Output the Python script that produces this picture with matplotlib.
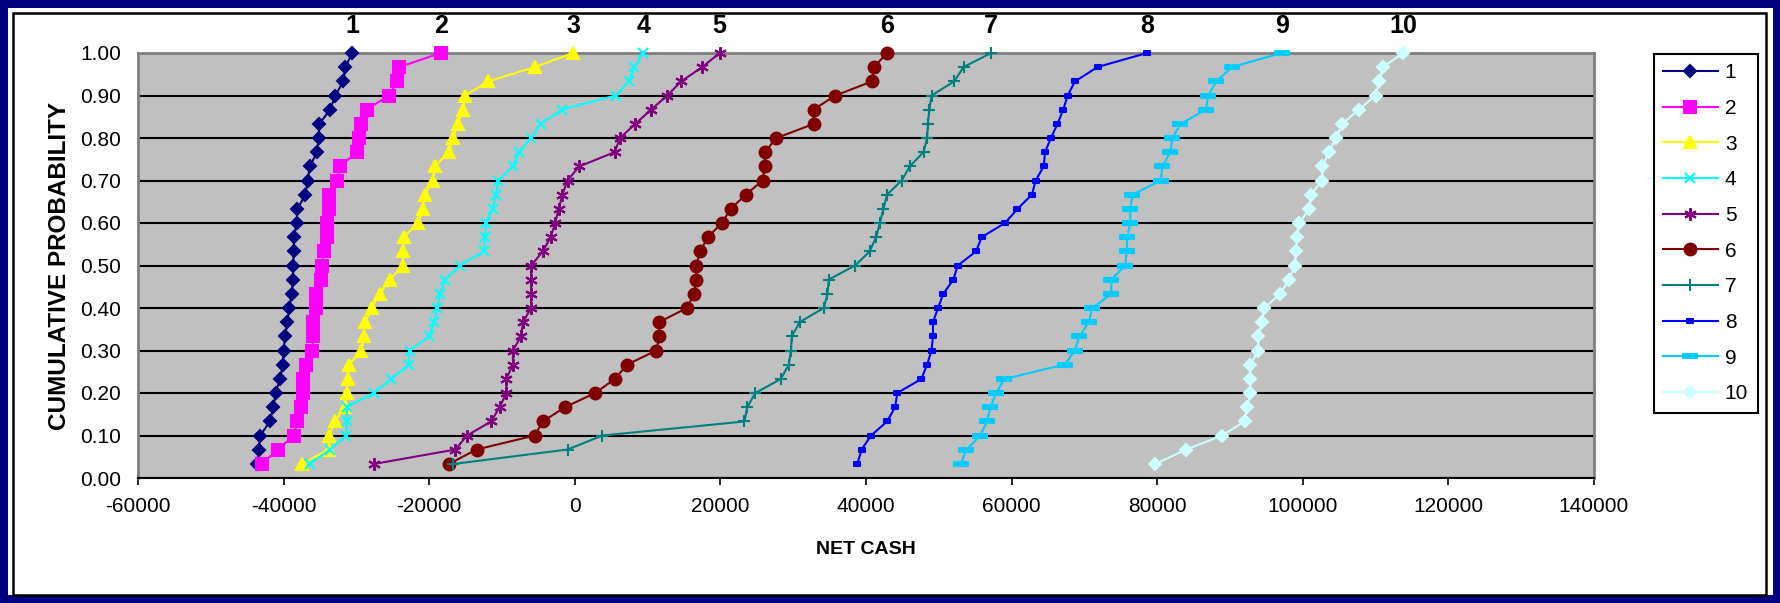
import matplotlib
matplotlib.use('Agg')
import matplotlib.pyplot as plt
from matplotlib.patches import Rectangle
from matplotlib.path import Path

plt.rcParams['font.family'] = ['Liberation Sans', 'DejaVu Sans']
narrow = ['Liberation Sans Narrow', 'Liberation Sans', 'DejaVu Sans']

# cumulative probability of each sorted outcome (30 runs)
cum_prob = [0.033, 0.067, 0.100, 0.133, 0.167, 0.200, 0.233, 0.267, 0.300, 0.333,
            0.367, 0.400, 0.433, 0.467, 0.500, 0.533, 0.567, 0.600, 0.633, 0.667,
            0.700, 0.733, 0.767, 0.800, 0.833, 0.867, 0.900, 0.933, 0.967, 1.000]

# net cash, sorted low to high, one list per alternative
cash_1 = [-43600, -43400, -43200, -41900, -41400, -41100, -40500, -40100, -40000, -39800,
          -39500, -39200, -38900, -38700, -38700, -38600, -38600, -38200, -38100, -37000,
          -36700, -36400, -35400, -35200, -35100, -33600, -32900, -31800, -31500, -30600]
cash_2 = [-43000, -40800, -38600, -38100, -37600, -37300, -37300, -36900, -36100, -35900,
          -35900, -35600, -35600, -34800, -34700, -34500, -34000, -34000, -33700, -33700,
          -32600, -32300, -29900, -29600, -29300, -28600, -25500, -24400, -24100, -18400]
cash_3 = [-37500, -33800, -33700, -33000, -31500, -31300, -31200, -31000, -29300, -29000,
          -28800, -27900, -26800, -25400, -23600, -23600, -23500, -21500, -20900, -20600,
          -19500, -19200, -17300, -16700, -16100, -15300, -15100, -11900, -5500, -200]
cash_4 = [-36400, -33600, -31400, -31300, -31300, -27600, -25200, -22800, -22700, -20000,
          -19300, -18900, -18500, -17800, -15800, -12500, -12300, -12200, -11300, -10800,
          -10500, -8500, -7700, -6000, -4700, -1700, 5600, 7400, 8200, 9400]
cash_5 = [-27600, -16400, -14800, -11500, -10300, -9400, -9400, -8500, -8500, -7400,
          -7100, -6000, -6000, -6000, -6000, -4400, -3300, -2700, -2200, -1700,
          -1000, 600, 5500, 6200, 8300, 10500, 12700, 14600, 17500, 19900]
cash_6 = [-17300, -13500, -5500, -4400, -1300, 2800, 5500, 7200, 11200, 11600,
          11600, 15400, 16400, 16700, 16700, 17200, 18300, 20200, 21400, 23500,
          25800, 26100, 26100, 27700, 32800, 32800, 35800, 40800, 41100, 42900]
cash_7 = [-16700, -1000, 3800, 23300, 23700, 24800, 28300, 29400, 29700, 29800,
          30900, 34200, 34700, 34900, 38500, 40500, 41400, 41900, 42400, 42900,
          44900, 46000, 47900, 48400, 48500, 48700, 49000, 52100, 53400, 57200]
cash_8 = [38800, 39400, 40700, 42900, 44000, 44300, 47600, 48400, 49000, 49200,
          49200, 49900, 50600, 52000, 52600, 55100, 55900, 59100, 60800, 62800,
          63300, 64400, 64600, 65400, 66300, 67100, 67700, 68700, 71800, 78600]
cash_9 = [53000, 53800, 55700, 56600, 57100, 57900, 59000, 67300, 68700, 69300,
          70600, 71100, 73700, 73700, 75600, 75800, 75900, 76300, 76300, 76600,
          80500, 80700, 81800, 82100, 83200, 86700, 87000, 88100, 90300, 97100]
cash_10 = [79700, 84000, 88900, 92000, 92400, 92800, 92800, 92800, 93900, 93900,
           94400, 94700, 96900, 98100, 98900, 99100, 99200, 99500, 100900, 101100,
           102700, 102700, 103600, 104600, 105400, 107700, 110000, 110500, 111000, 113800]

series = [cash_1, cash_2, cash_3, cash_4, cash_5, cash_6, cash_7, cash_8, cash_9, cash_10]
names = ['1', '2', '3', '4', '5', '6', '7', '8', '9', '10']
x_ticks = [-60000, -40000, -20000, 0, 20000, 40000, 60000, 80000, 100000, 120000, 140000]
y_ticks = [0.0, 0.1, 0.2, 0.3, 0.4, 0.5, 0.6, 0.7, 0.8, 0.9, 1.0]

colors = ['#000080', '#FF00FF', '#FFFF00', '#00FFFF', '#800080',
          '#800000', '#008080', '#0000FF', '#00CCFF', '#CCFFFF']

# excel style dash markers
dash_short = Path([(-1, -0.5), (1, -0.5), (1, 0.5), (-1, 0.5), (-1, -0.5)], closed=True)
dash_long = Path([(-2, -0.5), (2, -0.5), (2, 0.5), (-2, 0.5), (-2, -0.5)], closed=True)
markers = ['D', 's', '^', 'x', (6, 2, 0), 'o', '+', dash_short, dash_long, 'D']
msizes = [6, 8, 9, 7, 9, 8.5, 9, 5, 10, 6.5]

W, H = 1781, 603
fig = plt.figure(figsize=(W / 100, H / 100), dpi=100)
fig.patch.set_facecolor('#000080')

# white page inside the navy border, and the black chart frame
fig.add_artist(Rectangle((8 / W, 8 / H), 1 - 16 / W, 1 - 16 / H, transform=fig.transFigure,
                         facecolor='white', edgecolor='none', zorder=-3))
fig.add_artist(Rectangle((13 / W, 8 / H), (1766 - 13) / W, (595 - 13) / H, transform=fig.transFigure,
                         facecolor='white', edgecolor='black', linewidth=1.8, zorder=-2))

ax = fig.add_axes([138 / W, 1 - 478 / H, (1594 - 138) / W, (478 - 53) / H])
ax.set_facecolor('#C0C0C0')

for i, vals in enumerate(series):
    ax.plot(vals, cum_prob, color=colors[i], lw=1.5, marker=markers[i], ms=msizes[i],
            mfc=colors[i], mec=colors[i], mew=1.5, label=names[i], clip_on=False, zorder=3)
    # series number above the top point
    ax.annotate(names[i], xy=(vals[-1], cum_prob[-1]), xytext=(0, 19.5), textcoords='offset points',
                ha='center', va='center', fontsize=18, fontweight='bold', family=narrow,
                annotation_clip=False)

ax.set_xlim(-60000, 140000)
ax.set_ylim(0, 1)
ax.set_xticks(x_ticks)
ax.set_xticklabels([str(v) for v in x_ticks])
ax.set_yticks(y_ticks)
ax.set_yticklabels(['%.2f' % v for v in y_ticks])
ax.yaxis.grid(True, color='black', lw=1.5)
ax.set_axisbelow(True)

for side in ['top', 'left', 'right']:
    ax.spines[side].set_color('#808080')
    ax.spines[side].set_linewidth(2)
ax.spines['bottom'].set_color('black')
ax.spines['bottom'].set_linewidth(1.5)

ax.tick_params(axis='x', direction='out', length=5, width=1.2, pad=9, labelsize=15)
ax.tick_params(axis='y', length=0, pad=12, labelsize=15)

ax.set_xlabel('NET CASH', fontsize=14, fontweight='bold', family=narrow, labelpad=18)
ax.set_ylabel('CUMULATIVE PROBABILITY', fontsize=17.5, fontweight='bold', labelpad=7)

leg = ax.legend(loc='upper left', bbox_to_anchor=(1654 / W, 1 - 54 / H), bbox_transform=fig.transFigure,
                frameon=True, fancybox=False, edgecolor='black', framealpha=1, fontsize=15,
                handlelength=2.6, handletextpad=0.35, labelspacing=0.8, borderpad=0.45,
                borderaxespad=0)
leg.get_frame().set_linewidth(1.5)

fig.savefig('out.png', dpi=100, facecolor=fig.get_facecolor())
